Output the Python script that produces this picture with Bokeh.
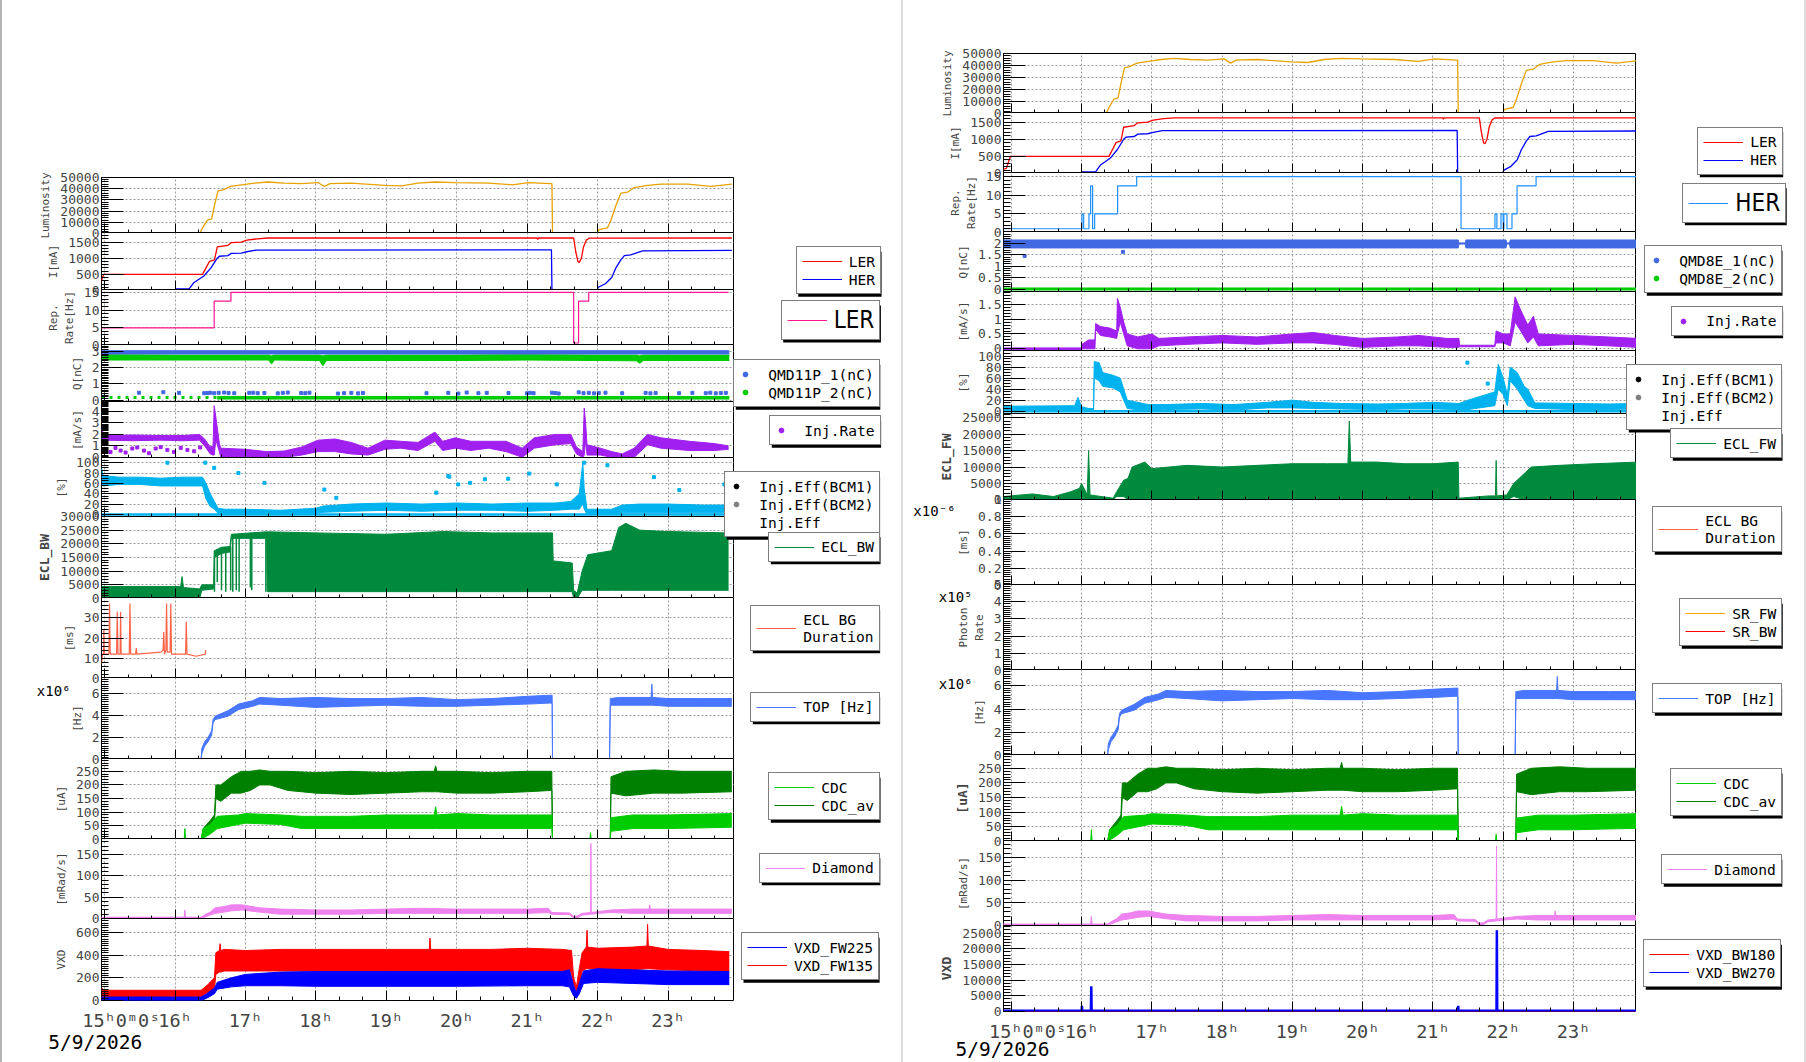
import numpy as np
from bokeh.plotting import figure
from bokeh.models import (Range1d, FixedTicker, Legend, LegendItem, Label,
                          CustomLabelingPolicy)
from bokeh.layouts import row, column
from bokeh.embed import file_html
from bokeh.resources import INLINE

# ------------------------------------------------------------------
# Beam and detector monitor data, 5/9/2026 (time in hours of the day)
# ------------------------------------------------------------------
DATE_TEXT = "5/9/2026"
HOUR_TICKS = [15, 16, 17, 18, 19, 20, 21, 22, 23]
HOUR_LABELS = ["\u00a0\u00a0\u00a015ʰ0ᵐ0ˢ", "16ʰ", "17ʰ", "18ʰ", "19ʰ", "20ʰ", "21ʰ", "22ʰ", "23ʰ"]

# luminosity
LUM_T = [14.85, 16.35, 16.39, 16.46, 16.52, 16.56, 16.61, 16.68, 16.79, 17.02,
         17.13, 17.32, 17.55, 17.79, 18.03, 18.12, 18.2, 18.5, 18.98, 19.22,
         19.45, 19.69, 19.98, 20.45, 20.79, 21.02, 21.33, 21.352, 21.36, 21.99,
         22.02, 22.14, 22.19, 22.26, 22.33, 22.43, 22.52, 22.71, 22.9, 23.28,
         23.61, 23.906]
LUM_V = [0, 0, 5000, 12000, 13000, 25000, 38000, 39000, 42000, 44000,
         45000, 46000, 45000, 44500, 45500, 42000, 44500, 45000, 43000, 42500,
         45000, 46000, 45500, 45000, 43500, 45500, 44500, 44500, 0, 0,
         3500, 5000, 12000, 25000, 36000, 37000, 41000, 43000, 44000, 44000,
         42000, 44000]

# ring currents [mA]
LER_T = [14.85, 14.93, 14.97, 14.99, 16.39, 16.44, 16.49, 16.56, 16.60, 16.75,
         16.80, 16.94, 17.02, 17.17, 17.32, 21.14, 21.15, 21.16, 21.66, 21.69,
         21.72, 21.74, 21.77, 21.80, 21.84, 21.88, 23.906]
LER_V = [100, 150, 400, 500, 500, 700, 900, 950, 1350, 1400,
         1480, 1500, 1560, 1600, 1625, 1625, 1580, 1625, 1625, 1200,
         900, 870, 1000, 1350, 1560, 1620, 1625]
HER_T = [14.85, 16.0, 16.01, 16.2, 16.27, 16.34, 16.41, 16.51, 16.60, 16.63,
         16.75, 16.80, 16.94, 17.02, 17.15, 21.345, 21.352, 21.99, 22.01, 22.11,
         22.2, 22.26, 22.33, 22.38, 22.47, 22.64, 23.906]
HER_V = [10, 10, 50, 50, 250, 350, 450, 700, 1000, 1060,
         1080, 1150, 1160, 1200, 1250, 1260, 0, 0, 100, 210,
         400, 700, 950, 1080, 1100, 1230, 1240]

# injection repetition rates [Hz]
REP_LER_T = [14.85, 16.556, 16.794, 21.66, 21.73, 21.874, 23.86]
REP_LER_V = [5, 12.5, 15, 0.7, 12.5, 15, 15]
REP_HER_T = [14.85, 16.006, 16.03, 16.105, 16.129, 16.157, 16.186, 16.513, 16.784, 21.40,
             21.883, 21.91, 21.969, 22.0, 22.01, 22.054, 22.125, 22.197, 22.468, 23.906]
REP_HER_V = [1, 5, 1, 5, 12.5, 1, 5, 12.5, 15, 1,
             5, 1, 5, 1, 5, 1, 5, 12.5, 15, 15]

# bunch charge, LER monitors [nC]
QL1_T = [14.956, 23.87]
QL1_LO = [2.82, 2.82]
QL1_HI = [3.02, 3.02]
QL2_T = [14.956, 16.0, 17.33, 17.37, 17.41, 18.05, 18.1, 18.15, 19.0, 20.0, 21.0, 22.0, 22.55, 22.6, 22.65, 23.87]
QL2_LO = [2.45, 2.45, 2.45, 2.2, 2.45, 2.42, 2.1, 2.42, 2.42, 2.42, 2.45, 2.42, 2.4, 2.25, 2.42, 2.42]
QL2_HI = [2.78, 2.75, 2.75, 2.7, 2.75, 2.75, 2.7, 2.75, 2.75, 2.75, 2.78, 2.75, 2.75, 2.7, 2.75, 2.75]
QL2_LOW_T = [16.6, 23.87]
QL2_LOW_LO = [0.06, 0.06]
QL2_LOW_HI = [0.22, 0.22]
QL2_SPARSE_T = [14.956, 16.6]
QL2_SPARSE_V = [0.15, 0.15]
QL1_LOW_T = [15.488, 15.834, 16.057, 16.414, 16.46, 16.5, 16.556, 16.62, 16.698, 16.76,
             16.841, 17.054, 17.11, 17.174, 17.269, 17.459, 17.53, 17.601, 17.791, 17.85,
             17.909, 18.313, 18.4, 18.503, 18.6, 18.669, 19.571, 19.88, 20.023, 20.141,
             20.308, 20.426, 20.735, 20.996, 21.04, 21.091, 21.352, 21.4, 21.447, 21.732,
             21.8, 21.875, 21.95, 22.017, 22.112, 22.349, 22.682, 22.75, 22.824, 23.157,
             23.346, 23.536, 23.6, 23.678, 23.75, 23.821]
QL1_LOW_V = [0.45, 0.48, 0.44, 0.42, 0.43, 0.45, 0.42, 0.44, 0.46, 0.43,
             0.42, 0.44, 0.45, 0.42, 0.43, 0.41, 0.44, 0.46, 0.43, 0.42,
             0.45, 0.40, 0.42, 0.44, 0.41, 0.43, 0.42, 0.44, 0.40, 0.46,
             0.42, 0.44, 0.43, 0.41, 0.44, 0.42, 0.45, 0.43, 0.40, 0.47,
             0.42, 0.44, 0.41, 0.43, 0.45, 0.42, 0.44, 0.41, 0.43, 0.42,
             0.44, 0.42, 0.45, 0.41, 0.43, 0.44]

# LER injection rate [mA/s]
INJL_T = [14.956, 15.0, 15.4, 15.8, 16.1, 16.35, 16.42, 16.5, 16.54, 16.556,
          16.58, 16.63, 16.65, 17.0, 17.3, 17.55, 17.8, 18.03, 18.27, 18.5,
          18.74, 18.98, 19.2, 19.45, 19.69, 19.8, 19.98, 20.2, 20.45, 20.7,
          20.93, 21.1, 21.4, 21.62, 21.7, 21.79, 21.81, 21.83, 21.85, 22.04,
          22.2, 22.35, 22.52, 22.71, 22.9, 23.3, 23.66, 23.86]
INJL_LO = [1.6, 1.5, 1.45, 1.5, 1.45, 1.5, 1.0, 0.3, 0.2, 0.2,
           1.5, 0.5, 0.0, 0.0, 0.0, 0.0, 0.2, 0.5, 0.5, 0.3,
           0.2, 0.7, 0.8, 0.6, 1.4, 0.6, 0.8, 0.6, 0.8, 0.5,
           0.0, 0.8, 1.1, 1.2, 0.3, 0.0, 0.2, 1.5, 0.2, 0.2,
           0.0, 0.0, 0.0, 1.1, 0.8, 0.6, 0.6, 0.7]
INJL_HI = [2.5, 1.9, 1.95, 1.9, 1.9, 2.0, 1.6, 0.9, 1.0, 4.5,
           3.5, 1.2, 0.8, 0.7, 0.5, 0.55, 0.9, 1.5, 1.6, 1.3,
           0.8, 1.5, 1.4, 1.3, 2.2, 1.4, 1.7, 1.4, 1.4, 1.4,
           0.8, 1.7, 2.0, 2.0, 0.9, 0.5, 4.3, 3.0, 1.1, 0.8,
           0.5, 0.3, 0.8, 2.0, 1.7, 1.4, 1.2, 1.0]
INJL_LOW_T = [15.013, 15.084, 15.155, 15.227, 15.298, 15.393, 15.464, 15.559, 15.630,
              15.725, 15.796, 15.891, 15.986, 16.081, 16.176, 16.271, 16.357]
INJL_LOW_V = [0.71, 0.47, 0.83, 0.59, 0.42, 0.77, 0.86, 0.59, 0.36,
              0.77, 0.89, 0.65, 0.47, 0.83, 0.65, 0.53, 0.86]

# LER injection efficiency [%]
EFFL_T = [14.956, 14.98, 15.2, 15.5, 15.8, 16.1, 16.39, 16.44, 16.5, 16.56,
          16.61, 16.7, 17.0, 17.5, 18.0, 18.1, 18.5, 19.0, 19.5, 20.0,
          20.5, 21.0, 21.4, 21.62, 21.74, 21.79, 21.81, 21.85, 22.2, 22.35,
          22.6, 23.0, 23.5, 23.86]
EFFL_LO = [60, 55, 58, 58, 55, 55, 55, 30, 15, 10,
           2, 0, 0, 0, 2, 4, 6, 8, 6, 8,
           8, 6, 8, 10, 10, 20, 10, 0, 0, 3,
           3, 3, 3, 3]
EFFL_HI = [90, 75, 72, 72, 70, 72, 72, 60, 40, 25,
           12, 10, 10, 8, 12, 16, 20, 22, 20, 22,
           20, 22, 22, 25, 40, 100, 50, 10, 10, 18,
           20, 20, 18, 18]
EFFL_BASE_T = [14.956, 23.87]
EFFL_BASE_V = [0, 0]
EFFL_OUT_T = [15.892, 16.43, 16.556, 16.9, 17.27, 18.12, 18.29, 19.71, 19.88, 19.894,
              20.02, 20.19, 20.40, 20.73, 21.03, 21.42, 21.81, 22.14, 22.80, 23.16, 23.8]
EFFL_OUT_V = [100, 100, 90, 80, 61, 48, 32, 42, 74, 73,
              58, 61, 68, 69, 79, 58, 100, 95, 72, 47, 58]

# ECL backward background: dense envelope plus isolated drop-outs
ECLBW_T = [14.956, 16.08, 16.1, 16.12, 16.35, 16.38, 16.55, 16.56, 16.66, 16.78,
           16.8, 17.3, 17.31, 18.0, 19.0, 19.8, 20.5, 21.36, 21.37, 21.64,
           21.66, 21.71, 21.78, 21.86, 22.2, 22.3, 22.4, 22.6, 23.0, 23.86]
ECLBW_LO = [0, 0, 0, 0, 0, 3000, 3500, 15000, 16500, 17000,
            22000, 22000, 2500, 2500, 2500, 2500, 2500, 2500, 2500, 2500,
            0, 0, 3000, 3000, 3000, 3000, 3000, 3000, 3000, 3000]
ECLBW_HI = [4400, 4400, 8000, 4000, 3500, 5000, 5000, 17500, 18750, 19000,
            23500, 24400, 24400, 24000, 23500, 24500, 24000, 24000, 13750, 13000,
            3000, 2000, 10000, 16000, 17500, 26000, 27500, 25000, 24500, 24000]
ECLBW_DROP_T = [16.56, 16.60, 16.66, 16.72, 16.79, 16.82, 16.87, 16.91, 17.07, 17.09, 17.29]
ECLBW_DROP_LO = [2500, 6000, 3000, 2500, 3000, 2500, 3000, 2500, 4000, 3000, 2500]
ECLBW_DROP_HI = [17500, 18000, 18750, 18750, 19000, 23500, 23500, 23500, 24000, 24000, 24000]

# ECL background duration [ms]
ECLBG_T = [14.956, 14.97, 14.985, 14.989, 14.995, 15.06, 15.07, 15.08, 15.17, 15.18,
           15.19, 15.22, 15.227, 15.235, 15.35, 15.36, 15.37, 15.44, 15.45, 15.46,
           15.8, 15.83, 15.84, 15.85, 15.87, 15.88, 15.89, 15.93, 15.94, 15.95,
           16.15, 16.16, 16.17, 16.3, 16.43, 16.437]
ECLBG_V = [7, 12, 12, 24, 12, 12, 37, 12, 12, 33,
           12, 12, 33, 12, 12, 37, 12, 12, 15, 12,
           13, 14, 23, 12, 14, 37, 13, 13, 37, 12,
           12, 28, 12, 11, 12, 14]

# TOP hit rate [x1e6 Hz]
TOP_T = [14.85, 16.37, 16.38, 16.42, 16.47, 16.52, 16.54, 16.57, 16.75, 16.9,
         17.1, 17.2, 17.5, 18.0, 18.5, 19.0, 19.5, 20.0, 20.5, 21.0,
         21.34, 21.355, 21.36, 22.17, 22.18, 22.3, 22.76, 22.77, 22.78, 23.0,
         23.5, 23.906]
TOP_LO = [0, 0, 0.5, 1.2, 1.6, 2.2, 3.3, 3.6, 3.9, 4.5,
          4.8, 5.0, 4.9, 4.7, 4.8, 4.9, 4.8, 4.8, 4.9, 5.0,
          5.1, 5.0, 0, 0, 4.9, 4.9, 4.9, 4.9, 4.9, 4.8,
          4.8, 4.8]
TOP_HI = [0, 0, 1.0, 1.6, 2.0, 2.6, 3.6, 3.9, 4.4, 5.0,
          5.3, 5.6, 5.5, 5.6, 5.5, 5.5, 5.6, 5.4, 5.5, 5.7,
          5.8, 5.8, 0, 0, 5.5, 5.6, 5.6, 6.8, 5.6, 5.5,
          5.5, 5.5]

# CDC currents [uA]
CDCAV_T = [14.85, 16.37, 16.40, 16.50, 16.56, 16.58, 16.65, 16.80, 16.94, 17.07,
           17.20, 17.35, 17.60, 18.0, 18.5, 19.0, 19.5, 19.68, 19.7, 19.72,
           20.0, 20.5, 21.0, 21.35, 21.36, 22.18, 22.19, 22.4, 22.8, 23.2, 23.906]
CDCAV_LO = [0, 0, 10, 30, 60, 150, 140, 170, 170, 180,
            200, 200, 180, 170, 165, 170, 175, 175, 175, 175,
            170, 170, 175, 180, 0, 0, 170, 160, 170, 170, 175]
CDCAV_HI = [0, 0, 40, 70, 90, 200, 200, 230, 250, 250,
            255, 250, 250, 245, 250, 245, 250, 250, 270, 250,
            250, 245, 250, 250, 0, 0, 230, 250, 255, 250, 250]
CDC_T = [14.85, 16.13, 16.14, 16.15, 16.37, 16.40, 16.50, 16.60, 16.90, 17.0,
         17.5, 17.8, 18.5, 19.0, 19.68, 19.7, 19.72, 20.0, 20.5, 21.0,
         21.35, 21.36, 21.89, 21.9, 21.91, 22.18, 22.19, 22.5, 23.0, 23.906]
CDC_LO = [0, 0, 0, 0, 0, 5, 20, 40, 55, 60,
          55, 40, 40, 40, 40, 40, 40, 40, 40, 40,
          40, 0, 0, 0, 0, 0, 30, 40, 40, 45]
CDC_HI = [0, 0, 40, 0, 0, 40, 55, 85, 90, 95,
          90, 85, 85, 90, 90, 120, 90, 95, 90, 90,
          90, 0, 0, 25, 0, 0, 80, 90, 90, 95]

# diamond dose rate [mRad/s]
DIA_T = [14.85, 16.13, 16.14, 16.15, 16.37, 16.42, 16.50, 16.57, 16.70, 16.80,
         16.95, 17.2, 17.5, 18.0, 18.5, 19.0, 19.5, 20.0, 20.5, 21.0,
         21.3, 21.35, 21.6, 21.66, 21.72, 21.78, 21.9, 21.905, 21.91, 21.915,
         22.0, 22.2, 22.5, 22.73, 22.74, 22.75, 23.0, 23.5, 23.906]
DIA_LO = [1, 1, 1, 1, 1, 3, 8, 12, 15, 18,
          20, 15, 10, 10, 10, 12, 12, 12, 12, 12,
          14, 10, 9, 2, 2, 8, 10, 10, 10, 10,
          12, 14, 12, 12, 12, 12, 12, 12, 12]
DIA_HI = [3, 3, 20, 3, 3, 8, 15, 25, 28, 32,
          32, 25, 22, 20, 20, 22, 24, 22, 22, 22,
          24, 14, 13, 5, 6, 12, 14, 176, 14, 14,
          16, 20, 22, 22, 32, 22, 22, 22, 22]

# VXD forward dose (LER side)
VXDR_T = [14.956, 15.0, 16.37, 16.45, 16.56, 16.58, 16.63, 16.64, 16.65, 16.7,
          17.0, 17.5, 18.0, 18.5, 19.0, 19.61, 19.62, 19.63, 20.0, 20.5,
          21.0, 21.5, 21.63, 21.66, 21.7, 21.74, 21.78, 21.84, 21.85, 21.86,
          22.0, 22.5, 22.70, 22.71, 22.72, 23.0, 23.5, 23.87]
VXDR_LO = [30, 25, 25, 60, 100, 230, 250, 250, 250, 260,
           260, 260, 260, 260, 260, 260, 260, 260, 260, 260,
           260, 260, 250, 80, 60, 120, 260, 280, 280, 280,
           280, 270, 280, 280, 280, 270, 260, 260]
VXDR_HI = [110, 90, 90, 130, 200, 420, 440, 500, 440, 450,
           440, 450, 450, 450, 450, 450, 550, 450, 450, 450,
           460, 450, 440, 200, 120, 280, 420, 470, 618, 470,
           460, 470, 480, 670, 480, 450, 440, 430]
VXDB_T = [14.956, 16.37, 16.45, 16.56, 16.6, 16.8, 17.0, 17.5, 18.0, 19.0,
          20.0, 21.0, 21.5, 21.6, 21.66, 21.7, 21.74, 21.8, 22.0, 22.5,
          23.0, 23.87]
VXDB_LO = [0, 0, 20, 60, 100, 120, 130, 130, 125, 125,
           125, 130, 130, 120, 40, 20, 60, 150, 160, 150,
           140, 140]
VXDB_HI = [30, 30, 60, 110, 160, 200, 230, 250, 255, 255,
           255, 255, 255, 270, 130, 70, 150, 260, 280, 270,
           260, 255]

# bunch charge, HER monitors [nC]
QR1_T = [14.889, 21.36, 21.37, 21.46, 21.47, 22.04, 22.05, 22.09, 22.1, 23.906]
QR1_LO = [1.8, 1.8, 1.97, 1.97, 1.8, 1.8, 1.97, 1.97, 1.8, 1.8]
QR1_HI = [2.15, 2.15, 2.02, 2.02, 2.15, 2.15, 2.02, 2.02, 2.15, 2.15]
QR1_OUT_T = [15.19, 16.59]
QR1_OUT_V = [1.45, 1.63]
QR2_T = [14.889, 23.906]
QR2_V = [0, 0]

# HER injection rate [mA/s]
INJR_T = [14.889, 16.0, 16.006, 16.1, 16.19, 16.2, 16.27, 16.4, 16.5, 16.51,
          16.55, 16.6, 16.65, 16.8, 17.0, 17.1, 17.5, 18.0, 18.5, 19.0,
          19.3, 19.6, 20.0, 20.5, 20.8, 21.2, 21.37, 21.38, 21.88, 21.9,
          22.0, 22.1, 22.17, 22.25, 22.35, 22.43, 22.5, 23.0, 23.5, 23.906]
INJR_LO = [-0.03, -0.03, 0.0, 0.0, 0.0, 0.65, 0.45, 0.4, 0.35, 0.5,
           0.9, 0.5, 0.1, 0.0, 0.0, 0.1, 0.15, 0.2, 0.15, 0.2,
           0.2, 0.15, 0.05, 0.1, 0.1, 0.05, 0.05, 0.07, 0.07, 0.2,
           0.2, 0.1, 0.9, 0.6, 0.2, 0.4, 0.1, 0.15, 0.1, 0.05]
INJR_HI = [0.03, 0.03, 0.15, 0.3, 0.3, 0.85, 0.75, 0.7, 0.6, 1.7,
           1.4, 0.9, 0.5, 0.4, 0.5, 0.35, 0.4, 0.45, 0.4, 0.5,
           0.55, 0.45, 0.35, 0.4, 0.45, 0.35, 0.35, 0.12, 0.12, 0.6,
           0.5, 0.5, 1.75, 1.3, 0.8, 1.1, 0.5, 0.45, 0.4, 0.35]

# HER injection efficiency [%]
EFFR_T = [14.889, 15.9, 15.95, 16.0, 16.1, 16.17, 16.18, 16.25, 16.3, 16.45,
          16.55, 16.6, 16.65, 16.95, 17.2, 17.7, 18.17, 18.64, 19.0, 19.3,
          19.7, 20.2, 20.6, 21.0, 21.37, 21.5, 21.88, 21.93, 22.0, 22.06,
          22.1, 22.2, 22.3, 22.35, 22.45, 23.0, 23.5, 23.906]
EFFR_LO = [0, 0, 0, 0, 0, 0, 60, 55, 45, 42,
           35, 20, 5, 0, 3, 4, 2, 6, 6, 5,
           4, 3, 4, 4, 3, 3, 10, 40, 30, 10,
           55, 40, 20, 10, 5, 3, 3, 4]
EFFR_HI = [9, 10, 25, 8, 5, 5, 90, 88, 70, 65,
           60, 40, 20, 12, 12, 14, 12, 16, 20, 16,
           14, 13, 14, 16, 14, 20, 35, 85, 60, 30,
           80, 70, 45, 40, 15, 14, 13, 14]
EFFR_BASE_T = [14.889, 23.906]
EFFR_BASE_V = [0, 0]
EFFR_OUT_T = [21.49, 21.78]
EFFR_OUT_V = [88, 50]

# ECL forward background
ECLFW_T = [14.889, 15.3, 15.6, 15.85, 15.97, 16.0, 16.08, 16.1, 16.12, 16.45,
           16.5, 16.6, 16.66, 16.72, 16.9, 17.0, 17.5, 18.0, 18.5, 19.0,
           19.5, 19.79, 19.81, 19.83, 20.2, 20.6, 21.0, 21.36, 21.37, 21.8,
           21.89, 21.9, 21.91, 22.05, 22.15, 22.3, 22.4, 22.8, 23.3, 23.906]
ECLFW_LO = [0, 0, 0, 0, 0, 0, 0, 0, 0, 0,
            1000, 1000, 0, 0, 0, 0, 0, 0, 0, 0,
            0, 0, 0, 0, 0, 0, 0, 0, 0, 0,
            0, 0, 0, 0, 1000, 0, 0, 0, 0, 0]
ECLFW_HI = [1000, 1800, 1000, 2500, 3500, 5000, 1500, 15000, 1500, 500,
            2500, 6000, 6500, 10000, 11500, 9500, 10500, 10000, 10500, 11000,
            11000, 11000, 24000, 11500, 11500, 11000, 11000, 11500, 500, 1200,
            1200, 12000, 1200, 1500, 5000, 8000, 10000, 10500, 11000, 11500]

# synchrotron radiation photon rate [x1e5]
SR_T = [14.889, 23.906]
SR_FW_V = [0, 0]
SR_BW_V = [0, 0]

# VXD backward dose (HER side)
VXD270_T = [14.889, 16.0, 16.005, 16.01, 16.133, 16.138, 16.143, 21.355, 21.36, 21.365,
            21.905, 21.91, 21.915, 23.906]
VXD270_V = [200, 200, 1800, 200, 200, 8000, 200, 200, 1800, 200,
            200, 25900, 200, 200]
VXD180_T = [14.889, 23.906]
VXD180_V = [100, 100]

# ------------------------------------------------------------------
# styling
# ------------------------------------------------------------------
MONO = "DejaVu Sans Mono"
BIG = "DejaVu Sans Condensed"
GRID_COLOR = "#9c9c9c"
FRAME_W = 633
PAD = 10
H_TOTAL = 1062
X_MINOR = [k / 3 for k in range(44, 73)]

# legend box metrics (pixels)
LEG_PAD = 5
ROW_H = 18
MONO_CHAR_W = 0.6021 * 14.6
BIG_CHAR_W = {"L": 0.501, "E": 0.569, "R": 0.626, "H": 0.677}

C_LUM = "#e8a202"
C_LER = "#ff0000"
C_HER = "#0000ff"
C_REP_LER = "#ff1493"
C_REP_HER = "#1e90ff"
C_Q1 = "#4169e1"
C_Q2 = "#00cc00"
C_INJ = "#a020f0"
C_EFF = "#00b2ee"
C_ECL = "#008a3e"
C_ECLBG = "#ff6347"
C_TOP = "#4876ff"
C_CDC = "#00cc00"
C_CDCAV = "#008000"
C_DIA = "#ee82ee"
C_SRFW = "#ffa500"
NAN = [float("nan")]


def minor_ticks(lo, hi, step):
    k0 = int(np.ceil(lo / step - 1e-9))
    k1 = int(np.floor(hi / step + 1e-9))
    return [round(k * step, 6) for k in range(k0, k1 + 1)]


def fmt(v):
    return "%g" % v


def make_panel(xr, tops, i, spec, border_left, last_bottom):
    y0, y1 = spec["y"]
    first = i == 0
    last = i == len(tops) - 2
    fh = tops[i + 1] - tops[i] + 1
    p = figure(frame_width=FRAME_W, frame_height=fh, x_range=xr, y_range=Range1d(y0, y1),
               output_backend="svg", toolbar_location=None,
               min_border_left=border_left, min_border_right=0,
               min_border_top=tops[0] if first else PAD,
               min_border_bottom=last_bottom if last else PAD,
               background_fill_color="white", border_fill_color=None,
               outline_line_color="black", outline_line_width=1)
    if not first:
        p.margin = (-(2 * PAD + 1), 0, 0, 0)
    xt = FixedTicker(ticks=HOUR_TICKS, minor_ticks=X_MINOR)
    yt = FixedTicker(ticks=spec["ticks"], minor_ticks=minor_ticks(y0, y1, spec["minor"]))
    xa = p.xaxis[0]
    ya = p.yaxis[0]
    xa.ticker = xt
    ya.ticker = yt
    p.xgrid.ticker = xt
    p.ygrid.ticker = yt
    p.grid.grid_line_color = GRID_COLOR
    p.grid.grid_line_dash = "2 2"
    for ax in (xa, ya):
        ax.axis_line_color = None
        ax.major_tick_line_color = "black"
        ax.minor_tick_line_color = "black"
        ax.major_tick_out = 0
        ax.minor_tick_out = 0
    xa.major_tick_in = 10
    xa.minor_tick_in = 4
    ya.major_tick_in = 22
    ya.minor_tick_in = 7
    if last:
        xa.major_label_overrides = dict(zip(HOUR_TICKS, HOUR_LABELS))
        xa.major_label_text_font = MONO
        xa.major_label_text_font_size = "18.5px"
        xa.major_label_standoff = 9
    else:
        # time labels only under the bottom panel
        xa.major_label_policy = CustomLabelingPolicy(code="return []")
        xa.major_label_text_font_size = "0px"
        xa.major_label_standoff = 0
    ya.major_label_overrides = {t: fmt(t) for t in spec["ticks"]}
    ya.major_label_text_font = MONO
    ya.major_label_text_font_size = "13px"
    ya.major_label_standoff = 2
    ya.axis_label = spec["label"]
    ya.axis_label_text_font = MONO
    ya.axis_label_text_font_style = "bold" if spec.get("bold") else "normal"
    ya.axis_label_text_font_size = "13px" if spec.get("bold") else "11px"
    ya.axis_label_standoff = 5
    return p


def band(p, t, lo, hi, color):
    p.varea(x=t, y1=lo, y2=hi, fill_color=color, fill_alpha=1.0)
    p.line(t, hi, line_color=color, line_width=1)
    p.line(t, lo, line_color=color, line_width=1)


def overlay_figure(x0, width, shift):
    # transparent sheet over a whole column: holds legends and free text,
    # its data units are page pixels (y counted from the top)
    ov = figure(width=width, height=H_TOTAL, x_range=Range1d(x0, x0 + width),
                y_range=Range1d(H_TOTAL, 0), x_axis_type=None, y_axis_type=None,
                output_backend="svg", toolbar_location=None, min_border=0,
                outline_line_color=None, background_fill_color=None, border_fill_color=None)
    ov.margin = (0, 0, 0, -shift)
    return ov


def note(ov, x, y, text, size="14px", align="right"):
    ov.add_layout(Label(x=x, y=y, text=text, text_font=MONO, text_font_size=size,
                        text_align=align, text_baseline="middle", text_color="black"))


def add_legend(ov, x0, box_left, box_bottom, entries, big=False):
    items = []
    for label, kind, color in entries:
        if kind == "line":
            r = ov.line(x=NAN, y=NAN, line_color=color, line_width=1)
        elif kind == "dot":
            r = ov.scatter(x=NAN, y=NAN, marker="circle", fill_color=color, line_color=color)
        else:
            r = ov.scatter(x=NAN, y=NAN, marker="circle", fill_alpha=0, line_alpha=0)
        items.append(LegendItem(label=label, renderers=[r]))
    dots = entries[0][1] != "line"
    glyph_w = 12 if dots else 40
    standoff = 17 if dots else 7

    # drop shadow behind the box (offset down-right by 2 px)
    if big:
        text_w = sum(BIG_CHAR_W[c] for c in entries[0][0]) * 24
        box_h = 2 * LEG_PAD + 28
    else:
        lines = [ln for e in entries for ln in e[0].split("\n")]
        text_w = max(len(ln) for ln in lines) * MONO_CHAR_W
        box_h = 2 * LEG_PAD + sum(max(ROW_H, 17 * len(e[0].split("\n"))) for e in entries)
    box_w = 2 * LEG_PAD + glyph_w + standoff + text_w
    ov.quad(left=[box_left + 2], right=[box_left + box_w + 2],
            top=[box_bottom - box_h + 3], bottom=[box_bottom + 2],
            fill_color="black", line_color=None)

    leg = Legend(items=items, location=(box_left - x0, H_TOTAL - box_bottom),
                 orientation="vertical", padding=LEG_PAD, spacing=0, margin=0,
                 glyph_width=glyph_w, glyph_height=ROW_H, label_height=ROW_H,
                 label_standoff=standoff,
                 label_text_font=BIG if big else MONO,
                 label_text_font_size="24px" if big else "14.6px",
                 label_text_color="black",
                 border_line_color="black", border_line_width=1,
                 background_fill_color="white", background_fill_alpha=1.0)
    ov.add_layout(leg)


# ------------------------------------------------------------------
# left column: LER view
# ------------------------------------------------------------------
XL = Range1d(14.956, 23.944)
TOPS_L = [177, 232, 289, 344, 401, 457, 516, 597, 677, 758, 838, 918, 999]
SPEC_L = [
    dict(y=(0, 50000), ticks=[0, 10000, 20000, 30000, 40000, 50000], minor=2000, label="Luminosity"),
    dict(y=(0, 1796), ticks=[0, 500, 1000, 1500], minor=100, label="I[mA]"),
    dict(y=(0, 15.8), ticks=[0, 5, 10, 15], minor=1, label="Rep.\nRate[Hz]"),
    dict(y=(-0.15, 3.4), ticks=[0, 1, 2, 3], minor=0.1, label="Q[nC]"),
    dict(y=(-0.1, 4.87), ticks=[0, 1, 2, 3, 4], minor=0.1, label="[mA/s]"),
    dict(y=(-6, 110), ticks=[0, 20, 40, 60, 80, 100], minor=5, label="[%]"),
    dict(y=(0, 30000), ticks=[0, 5000, 10000, 15000, 20000, 25000, 30000], minor=1000, label="ECL_BW", bold=True),
    dict(y=(0, 40), ticks=[0, 10, 20, 30], minor=2, label="[ms]"),
    dict(y=(0, 7.4), ticks=[0, 2, 4, 6], minor=0.2, label="[Hz]"),
    dict(y=(0, 297), ticks=[0, 50, 100, 150, 200, 250], minor=10, label="[uA]"),
    dict(y=(-2.4, 188), ticks=[0, 50, 100, 150], minor=10, label="[mRad/s]"),
    dict(y=(0, 722), ticks=[0, 200, 400, 600], minor=20, label="VXD"),
]
PL = [make_panel(XL, TOPS_L, i, s, 99, H_TOTAL - TOPS_L[-1] - 1) for i, s in enumerate(SPEC_L)]

PL[0].line(LUM_T, LUM_V, line_color=C_LUM, line_width=1.3)
PL[1].line(LER_T, LER_V, line_color=C_LER, line_width=1.3)
PL[1].line(HER_T, HER_V, line_color=C_HER, line_width=1.3)
PL[2].step(REP_LER_T, REP_LER_V, mode="after", line_color=C_REP_LER, line_width=1.2)
band(PL[3], QL2_T, QL2_LO, QL2_HI, C_Q2)
band(PL[3], QL1_T, QL1_LO, QL1_HI, C_Q1)
band(PL[3], QL2_LOW_T, QL2_LOW_LO, QL2_LOW_HI, C_Q2)
PL[3].line(QL2_SPARSE_T, QL2_SPARSE_V, line_color=C_Q2, line_width=3, line_dash="3 5")
PL[3].scatter(QL1_LOW_T, QL1_LOW_V, marker="square", size=3, fill_color=C_Q1, line_color=C_Q1)
band(PL[4], INJL_T, INJL_LO, INJL_HI, C_INJ)
PL[4].scatter(INJL_LOW_T, INJL_LOW_V, marker="square", size=3, fill_color=C_INJ, line_color=C_INJ)
PL[5].line(EFFL_BASE_T, EFFL_BASE_V, line_color=C_EFF, line_width=2.5)
band(PL[5], EFFL_T, EFFL_LO, EFFL_HI, C_EFF)
PL[5].scatter(EFFL_OUT_T, EFFL_OUT_V, marker="square", size=3, fill_color=C_EFF, line_color=C_EFF)
band(PL[6], ECLBW_T, ECLBW_LO, ECLBW_HI, C_ECL)
PL[6].segment(x0=ECLBW_DROP_T, y0=ECLBW_DROP_LO, x1=ECLBW_DROP_T, y1=ECLBW_DROP_HI,
              line_color=C_ECL, line_width=1.5)
PL[7].line(ECLBG_T, ECLBG_V, line_color=C_ECLBG, line_width=1.2)
band(PL[8], TOP_T, TOP_LO, TOP_HI, C_TOP)
band(PL[9], CDCAV_T, CDCAV_LO, CDCAV_HI, C_CDCAV)
band(PL[9], CDC_T, CDC_LO, CDC_HI, C_CDC)
band(PL[10], DIA_T, DIA_LO, DIA_HI, C_DIA)
band(PL[11], VXDR_T, VXDR_LO, VXDR_HI, C_LER)
band(PL[11], VXDB_T, VXDB_LO, VXDB_HI, C_HER)

OV_L_X0 = 2
OL = overlay_figure(OV_L_X0, 899, 732)
note(OL, 70, 690, "x10⁶")
note(OL, 47.7, 1042, DATE_TEXT, size="19.5px", align="left")
add_legend(OL, OV_L_X0, 795.7, 294.3, [("LER", "line", C_LER), ("HER", "line", C_HER)])
add_legend(OL, OV_L_X0, 780.7, 340.0, [("LER", "line", C_REP_LER)], big=True)
add_legend(OL, OV_L_X0, 733.3, 407.3, [("QMD11P_1(nC)", "dot", C_Q1), ("QMD11P_2(nC)", "dot", C_Q2)])
add_legend(OL, OV_L_X0, 769.3, 445.3, [("Inj.Rate", "dot", C_INJ)])
add_legend(OL, OV_L_X0, 724.3, 537.3, [("Inj.Eff(BCM1)", "dot", "black"), ("Inj.Eff(BCM2)", "dot", "#808080"),
                                        ("Inj.Eff", "none", C_EFF)])
add_legend(OL, OV_L_X0, 768.3, 561.7, [("ECL_BW", "line", C_ECL)])
add_legend(OL, OV_L_X0, 750.3, 650.7, [("ECL BG\nDuration", "line", C_ECLBG)])
add_legend(OL, OV_L_X0, 750.3, 721.7, [("TOP [Hz]", "line", C_TOP)])
add_legend(OL, OV_L_X0, 768.3, 820.3, [("CDC", "line", C_CDC), ("CDC_av", "line", C_CDCAV)])
add_legend(OL, OV_L_X0, 759.3, 882.7, [("Diamond", "line", C_DIA)])
add_legend(OL, OV_L_X0, 741.0, 980.3, [("VXD_FW225", "line", C_HER), ("VXD_FW135", "line", C_LER)])

# ------------------------------------------------------------------
# right column: HER view
# ------------------------------------------------------------------
XR = Range1d(14.889, 23.897)
TOPS_R = [53, 112, 172, 231, 291, 350, 413, 499, 584, 669, 754, 840, 925, 1010]
SPEC_R = [
    dict(y=(0, 50000), ticks=[0, 10000, 20000, 30000, 40000, 50000], minor=2000, label="Luminosity"),
    dict(y=(0, 1780), ticks=[0, 500, 1000, 1500], minor=100, label="I[mA]"),
    dict(y=(0, 16.1), ticks=[0, 5, 10, 15], minor=1, label="Rep.\nRate[Hz]"),
    dict(y=(-0.15, 2.52), ticks=[0, 0.5, 1, 1.5, 2], minor=0.1, label="Q[nC]"),
    dict(y=(-0.09, 1.93), ticks=[0, 0.5, 1, 1.5], minor=0.1, label="[mA/s]"),
    dict(y=(-6, 110), ticks=[0, 20, 40, 60, 80, 100], minor=5, label="[%]"),
    dict(y=(-200, 26300), ticks=[0, 5000, 10000, 15000, 20000, 25000], minor=1000, label="ECL_FW", bold=True),
    dict(y=(0, 1), ticks=[0, 0.2, 0.4, 0.6, 0.8, 1], minor=0.025, label="[ms]"),
    dict(y=(0, 5), ticks=[0, 1, 2, 3, 4, 5], minor=0.125, label="Photon\nRate"),
    dict(y=(0, 7.4), ticks=[0, 2, 4, 6], minor=0.2, label="[Hz]"),
    dict(y=(0, 297), ticks=[0, 50, 100, 150, 200, 250], minor=10, label="[uA]", bold=True),
    dict(y=(-2.4, 188), ticks=[0, 50, 100, 150], minor=10, label="[mRad/s]"),
    dict(y=(0, 27400), ticks=[0, 5000, 10000, 15000, 20000, 25000], minor=1000, label="VXD", bold=True),
]
PR = [make_panel(XR, TOPS_R, i, s, 100, H_TOTAL - TOPS_R[-1] - 1) for i, s in enumerate(SPEC_R)]

PR[0].line(LUM_T, LUM_V, line_color=C_LUM, line_width=1.3)
PR[1].line(LER_T, LER_V, line_color=C_LER, line_width=1.3)
PR[1].line(HER_T, HER_V, line_color=C_HER, line_width=1.3)
PR[2].step(REP_HER_T, REP_HER_V, mode="after", line_color=C_REP_HER, line_width=1.2)
band(PR[3], QR1_T, QR1_LO, QR1_HI, C_Q1)
PR[3].scatter(QR1_OUT_T, QR1_OUT_V, marker="square", size=3, fill_color=C_Q1, line_color=C_Q1)
PR[3].line(QR2_T, QR2_V, line_color=C_Q2, line_width=3)
band(PR[4], INJR_T, INJR_LO, INJR_HI, C_INJ)
PR[5].line(EFFR_BASE_T, EFFR_BASE_V, line_color=C_EFF, line_width=2.5)
band(PR[5], EFFR_T, EFFR_LO, EFFR_HI, C_EFF)
PR[5].scatter(EFFR_OUT_T, EFFR_OUT_V, marker="square", size=3, fill_color=C_EFF, line_color=C_EFF)
band(PR[6], ECLFW_T, ECLFW_LO, ECLFW_HI, C_ECL)
PR[8].line(SR_T, SR_BW_V, line_color=C_LER, line_width=1.2)
PR[8].line(SR_T, SR_FW_V, line_color=C_SRFW, line_width=1.2)
band(PR[9], TOP_T, TOP_LO, TOP_HI, C_TOP)
band(PR[10], CDCAV_T, CDCAV_LO, CDCAV_HI, C_CDCAV)
band(PR[10], CDC_T, CDC_LO, CDC_HI, C_CDC)
band(PR[11], DIA_T, DIA_LO, DIA_HI, C_DIA)
PR[12].line(VXD180_T, VXD180_V, line_color=C_LER, line_width=2)
PR[12].line(VXD270_T, VXD270_V, line_color=C_HER, line_width=2.5)

OV_R_X0 = 903
OR = overlay_figure(OV_R_X0, 901, 733)
note(OR, 955, 510, "x10⁻⁶")
note(OR, 972, 596, "x10⁵")
note(OR, 972, 683, "x10⁶")
note(OR, 955, 1049, DATE_TEXT, size="19.5px", align="left")
add_legend(OR, OV_R_X0, 1697.3, 174.7, [("LER", "line", C_LER), ("HER", "line", C_HER)])
add_legend(OR, OV_R_X0, 1682.3, 222.7, [("HER", "line", C_REP_HER)], big=True)
add_legend(OR, OV_R_X0, 1644.3, 293.3, [("QMD8E_1(nC)", "dot", C_Q1), ("QMD8E_2(nC)", "dot", C_Q2)])
add_legend(OR, OV_R_X0, 1671.3, 335.7, [("Inj.Rate", "dot", C_INJ)])
add_legend(OR, OV_R_X0, 1626.3, 430.0, [("Inj.Eff(BCM1)", "dot", "black"), ("Inj.Eff(BCM2)", "dot", "#808080"),
                                         ("Inj.Eff", "none", C_EFF)])
add_legend(OR, OV_R_X0, 1670.3, 458.3, [("ECL_FW", "line", C_ECL)])
add_legend(OR, OV_R_X0, 1652.3, 552.3, [("ECL BG\nDuration", "line", C_ECLBG)])
add_legend(OR, OV_R_X0, 1679.3, 646.3, [("SR_FW", "line", C_SRFW), ("SR_BW", "line", C_LER)])
add_legend(OR, OV_R_X0, 1652.3, 713.3, [("TOP [Hz]", "line", C_TOP)])
add_legend(OR, OV_R_X0, 1670.3, 816.0, [("CDC", "line", C_CDC), ("CDC_av", "line", C_CDCAV)])
add_legend(OR, OV_R_X0, 1661.3, 884.3, [("Diamond", "line", C_DIA)])
add_legend(OR, OV_R_X0, 1643.3, 987.3, [("VXD_BW180", "line", C_LER), ("VXD_BW270", "line", C_HER)])

# ------------------------------------------------------------------
# page layout
# ------------------------------------------------------------------
left_side = row(column(*PL, spacing=0), OL, spacing=0,
                styles={"border-left": "2px solid #b4b4b4", "border-right": "2px solid #dcdcdc"})
right_side = row(column(*PR, spacing=0), OR, spacing=0,
                 styles={"border-right": "2px solid #dcdcdc"})
page = row(left_side, right_side, spacing=0)

open("out.html", "w").write(file_html(page, INLINE, title="Beam monitor 5/9/2026"))
